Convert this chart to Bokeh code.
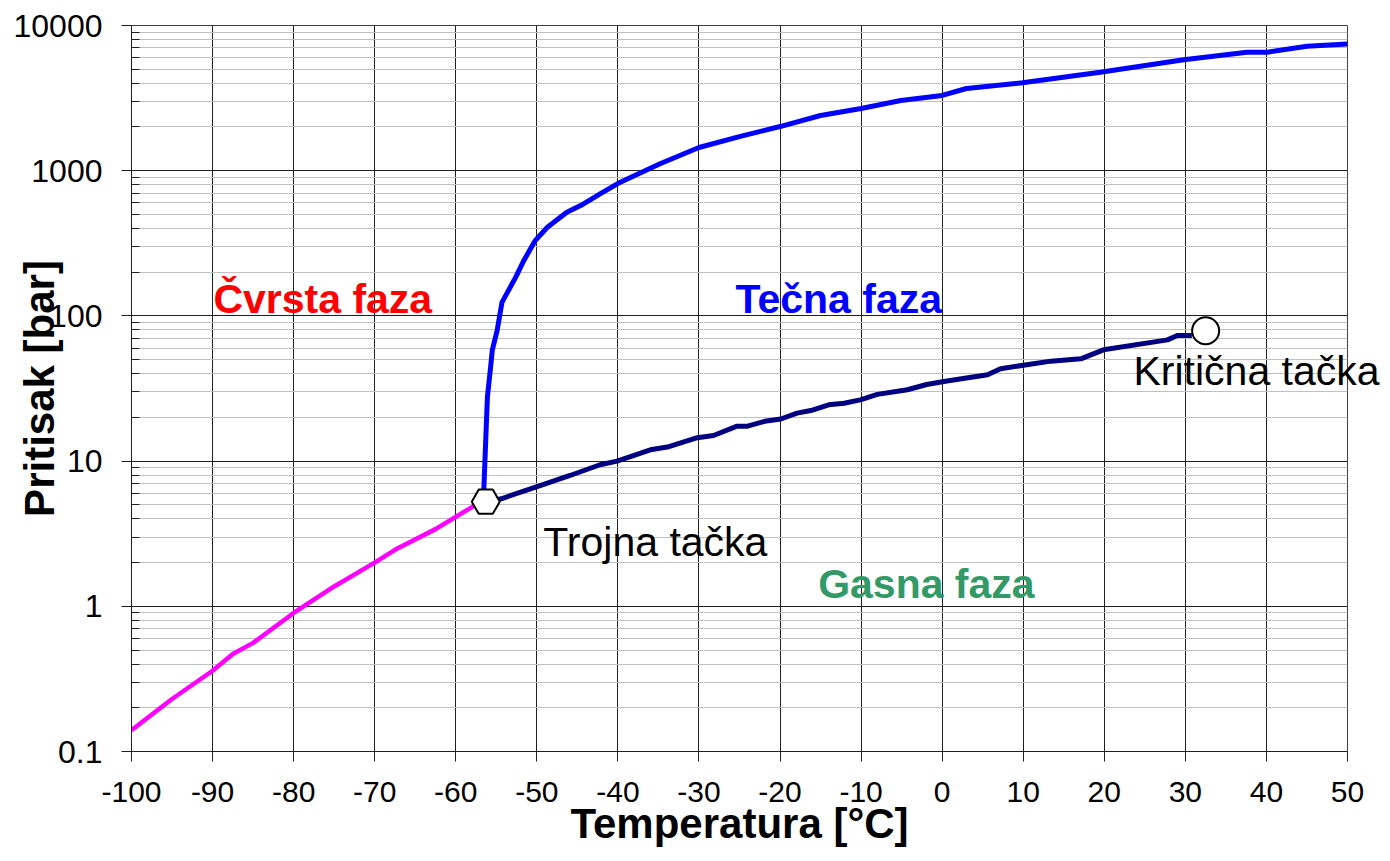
import json
from bokeh.plotting import figure
from bokeh.models import FixedTicker, Label, CustomJSTickFormatter, LogAxis
from bokeh.embed import file_html
from bokeh.resources import INLINE

# ---- data ----
sub_T = [-100, -95, -90, -87.5, -85, -80, -75, -70, -67.5, -62.5, -57.8, -56.6]
sub_P = [0.14, 0.23, 0.36, 0.47, 0.56, 0.90, 1.37, 2.0, 2.45, 3.4, 4.9, 5.18]

melt_T = [-56.6, -56.1, -55.7, -55.5, -54.9, -54.3, -52.6, -51.6, -50.2, -48.7, -46.3, -44.6,
          -42.2, -39.7, -34.8, -30.0, -24.9, -20.0, -15.0, -10.0, -5.1, 0.0, 3.0, 9.9,
          19.5, 29.8, 37.6, 40.1, 45.0, 50.0]
melt_P = [5.18, 27.5, 44.4, 57.8, 79.2, 124, 185, 241, 330, 408, 518, 575,
          693, 834, 1117, 1445, 1722, 2014, 2399, 2680, 3042, 3297, 3682, 4029,
          4765, 5810, 6550, 6550, 7200, 7450]

vap_T = [-56.6, -54.4, -49.6, -45.9, -42.2, -40.1, -36.0, -33.9, -30.2, -28.2, -25.3, -24.0,
         -21.9, -19.9, -17.9, -16.2, -14.0, -12.1, -10.1, -8.0, -4.3, -1.9, 0.2, 5.6,
         7.2, 13.4, 17.1, 19.9, 27.8, 29.0, 30.8]
vap_P = [5.18, 5.50, 6.79, 7.96, 9.44, 10.0, 11.97, 12.5, 14.5, 15.0, 17.4, 17.4,
         18.8, 19.5, 21.4, 22.3, 24.4, 25.0, 26.4, 28.8, 31.0, 33.7, 35.3, 39.3,
         43.3, 48.8, 50.6, 58.4, 68.4, 73.3, 73.3]

triple_T = [-56.3]
triple_P = [5.25]
crit_T = [32.5]
crit_P = [79.0]

x_ticks = [-100, -90, -80, -70, -60, -50, -40, -30, -20, -10, 0, 10, 20, 30, 40, 50]
y_ticks = [0.1, 1, 10, 100, 1000, 10000]
y_minor = [m * d for d in [0.1, 1, 10, 100, 1000] for m in range(2, 10)]

phase_labels = ["Čvrsta faza", "Tečna faza", "Gasna faza"]
phase_T = [-89.9, -25.5, -15.3]
phase_P = [130, 130, 1.43]
phase_colors = ["#FF0000", "#0000FF", "#339966"]

point_labels = ["Trojna tačka", "Kritična tačka"]
point_T = [-49.2, 23.6]
point_P = [2.78, 41.7]   # second label: vertical centre of the text

FONT = "Liberation Sans"

p = figure(width=1390, height=861, y_axis_type="log",
           x_range=(-100, 50), y_range=(0.1, 10000),
           output_backend="svg", toolbar_location=None,
           min_border_left=131, min_border_right=43, min_border_top=25, min_border_bottom=110,
           background_fill_color="white", border_fill_color="white")

p.outline_line_color = "#404040"
p.outline_line_width = 1

# axes
p.xaxis.ticker = FixedTicker(ticks=x_ticks)
p.xaxis.formatter = CustomJSTickFormatter(code="return String(tick);")
p.yaxis.ticker = FixedTicker(ticks=y_ticks, minor_ticks=y_minor)
p.yaxis.formatter = CustomJSTickFormatter(code="return String(tick);")

for ax in (p.xaxis[0], p.yaxis[0]):
    ax.axis_line_color = "#202020"
    ax.axis_line_width = 1
    ax.major_tick_line_color = "#202020"
    ax.major_tick_out = 10
    ax.major_tick_in = 0
    ax.major_label_text_font = FONT
    ax.major_label_text_color = "black"
    ax.axis_label_text_font = FONT
    ax.axis_label_text_font_size = "42px"
    ax.axis_label_text_font_style = "bold"
    ax.axis_label_text_color = "black"

p.xaxis.major_label_text_font_size = "30px"
p.yaxis.major_label_text_font_size = "32px"

p.xaxis.minor_tick_line_color = None
p.xaxis.major_label_standoff = 20
p.xaxis.axis_label = "Temperatura [°C]"
p.xaxis.axis_label_standoff = -5

p.yaxis.minor_tick_in = 8
p.yaxis.minor_tick_out = 0
p.yaxis.minor_tick_line_color = "#202020"
p.yaxis.major_label_standoff = 19
p.yaxis.axis_label = "Pritisak [bar]"
p.yaxis.axis_label_standoff = -52

# grids
p.xgrid.grid_line_color = "#202020"
p.xgrid.grid_line_width = 1
p.ygrid.grid_line_color = "#202020"
p.ygrid.grid_line_width = 1
p.ygrid.minor_grid_line_color = "#c0c0c0"
p.ygrid.minor_grid_line_width = 1

# curves
p.line(sub_T, sub_P, line_color="#FF00FF", line_width=4.5)
p.line(melt_T, melt_P, line_color="#0000FF", line_width=5)
p.line(vap_T, vap_P, line_color="#000080", line_width=5)

p.scatter(triple_T, triple_P, marker="hex", size=28, fill_color="white",
          line_color="black", line_width=2)
p.scatter(crit_T, crit_P, marker="circle", size=27, fill_color="white",
          line_color="black", line_width=2)

for txt, tx, ty, col in zip(phase_labels, phase_T, phase_P, phase_colors):
    p.add_layout(Label(x=tx, y=ty, text=txt, text_color=col, text_font=FONT,
                       text_font_size="41px", text_font_style="bold",
                       text_baseline="alphabetic", text_align="left"))

# "Trojna tačka" lies inside the plot frame
p.add_layout(Label(x=point_T[0], y=point_P[0], text=point_labels[0], text_color="black",
                   text_font=FONT, text_font_size="41px",
                   text_baseline="alphabetic", text_align="left"))

# "Kritična tačka" runs past the right edge of the frame, so it is drawn as the
# tick label of an invisible right-hand axis (side panels are not clipped).
x_px_per_unit = 1216 / 150.0
label_standoff = -int(round((50 - point_T[1]) * x_px_per_unit))
crit_axis = LogAxis(ticker=FixedTicker(ticks=[point_P[1]], minor_ticks=[]),
                    formatter=CustomJSTickFormatter(code="return %s;" % json.dumps(point_labels[1])),
                    axis_line_color=None, major_tick_line_color=None, minor_tick_line_color=None,
                    major_tick_out=0, major_tick_in=0,
                    major_label_standoff=label_standoff,
                    major_label_text_font=FONT, major_label_text_font_size="41px",
                    major_label_text_color="black")
p.add_layout(crit_axis, "right")

open("out.html", "w").write(file_html(p, INLINE))
